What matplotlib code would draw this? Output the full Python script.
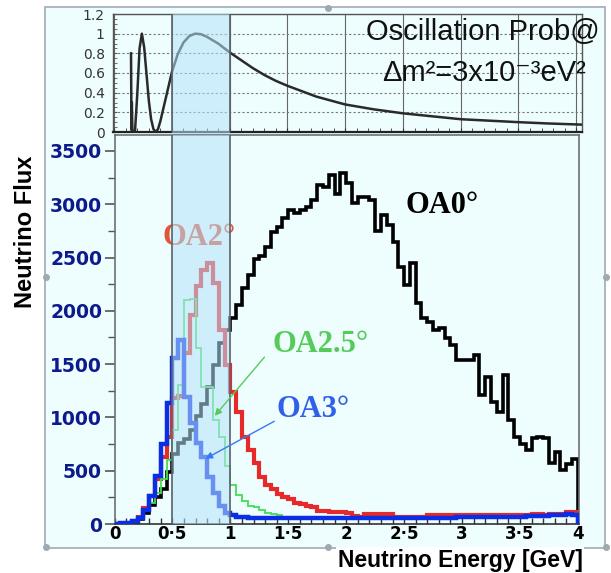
import matplotlib
matplotlib.use("Agg")
import matplotlib.pyplot as plt
from matplotlib.patches import Rectangle
from matplotlib.lines import Line2D
import numpy as np

# flux histograms, 0.05 GeV bins from 0 to 4 GeV
edges = np.linspace(0, 4, 81)

flux_oa0 = [0, 0, 5, 20, 50, 100, 180, 250, 330, 490,
            660, 760, 800, 880, 1010, 1130, 1290, 1490, 1700, 1820,
            1930, 2055, 2210, 2335, 2490, 2510, 2600, 2740, 2790, 2870,
            2945, 2915, 2945, 2975, 3040, 3180, 3165, 3275, 3100, 3290,
            3195, 3010, 3070, 3070, 3040, 2745, 2900, 2805, 2650, 2415,
            2240, 2450, 2070, 1930, 1900, 1820, 1835, 1745, 1680, 1540,
            1540, 1540, 1590, 1210, 1375, 1145, 1050, 1395, 975, 820,
            755, 695, 810, 820, 805, 575, 680, 505, 560, 610]

flux_oa2 = [0, 0, 10, 30, 70, 150, 260, 420, 630, 820,
            1180, 1200, 1600, 1960, 2230, 2380, 2450, 2260, 1820, 1490,
            1240, 1050, 820, 695, 570, 445, 370, 330, 280, 255,
            230, 200, 185, 165, 155, 125, 120, 115, 115, 110,
            105, 75, 70, 95, 95, 95, 90, 90, 70, 70,
            65, 65, 70, 70, 80, 80, 80, 80, 80, 80,
            85, 85, 85, 85, 80, 85, 85, 80, 85, 85,
            80, 85, 90, 90, 85, 90, 95, 95, 115, 110]

flux_oa25 = [0, 0, 10, 30, 60, 120, 200, 290, 420, 600,
             880, 1300, 2100, 2110, 1650, 1290, 1290, 980, 820, 540,
             370, 270, 220, 165, 160, 130, 100, 95, 80, 70,
             70, 65, 65, 65, 60, 60, 60, 60, 60, 60,
             60, 60, 60, 60, 60, 60, 60, 60, 60, 60,
             60, 60, 60, 60, 60, 60, 60, 65, 65, 65,
             65, 65, 65, 70, 70, 70, 70, 70, 70, 70,
             75, 75, 75, 75, 75, 80, 80, 80, 85, 85]

flux_oa3 = [0, 5, 8, 25, 60, 130, 260, 450, 750, 1135,
            1560, 1726, 1190, 950, 760, 630, 445, 290, 165, 105,
            80, 70, 65, 60, 60, 60, 55, 55, 55, 55,
            55, 55, 55, 55, 55, 55, 55, 55, 55, 55,
            55, 55, 55, 55, 60, 55, 55, 55, 60, 55,
            55, 55, 55, 55, 60, 60, 60, 60, 60, 65,
            65, 65, 65, 65, 65, 70, 70, 70, 65, 70,
            70, 75, 75, 75, 75, 80, 80, 85, 90, 85]

# oscillation probability curve
osc_e = [0.146, 0.150, 0.153, 0.158, 0.165, 0.180, 0.20, 0.22, 0.24, 0.26,
         0.28, 0.30, 0.32, 0.34, 0.36, 0.38, 0.40, 0.45, 0.50, 0.55,
         0.60, 0.65, 0.70, 0.75, 0.80, 0.90, 1.00, 1.10, 1.20, 1.30,
         1.40, 1.50, 1.75, 2.00, 2.25, 2.50, 2.75, 3.00, 3.25, 3.50,
         3.75, 4.00, 4.05]
osc_p = [0.80, 0.02, 0.30, 0.02, 0.0, 0.0, 0.38, 0.85, 1.00, 0.86,
         0.59, 0.32, 0.13, 0.03, 0.0, 0.03, 0.11, 0.36, 0.61, 0.79,
         0.91, 0.975, 1.0, 0.995, 0.97, 0.90, 0.81, 0.73, 0.65, 0.58,
         0.52, 0.47, 0.36, 0.28, 0.23, 0.19, 0.16, 0.13, 0.115, 0.10,
         0.087, 0.077, 0.075]

band = (0.5, 1.0)
xticks = [0, 0.5, 1, 1.5, 2, 2.5, 3, 3.5, 4]
xtick_labels = ["0", "0·5", "1", "1·5", "2", "2·5", "3", "3·5", "4"]
yticks = [0, 500, 1000, 1500, 2000, 2500, 3000, 3500]
ptop_ticks = [0, 0.2, 0.4, 0.6, 0.8, 1.0, 1.2]
ptop_labels = ["0", "0.2", "0.4", "0.6", "0.8", "1", "1.2"]

W, H = 611.0, 573.0
def fx(px):
    return px / W
def fy(py):
    return 1 - py / H

bg = "#eefdfd"
band_col = "#b5e2fa"
edge_col = "#5a6068"
spine_col = "#6a7078"

fig = plt.figure(figsize=(6.11, 5.73), dpi=100)
fig.patch.set_facecolor("white")

# light frame around the whole chart
frame = Rectangle((fx(45), fy(548)), fx(605) - fx(45), fy(7) - fy(548),
                  transform=fig.transFigure, facecolor=bg, edgecolor="#a9b1ba",
                  lw=1.3, zorder=0)
fig.add_artist(frame)
for hx, hy in [(46, 277), (606, 277), (328, 8), (46, 547), (328, 547), (606, 547)]:
    fig.add_artist(Line2D([fx(hx)], [fy(hy)], marker="o", ms=4, color="#a0a8b0",
                          transform=fig.transFigure))

# ---------------- upper panel: oscillation probability
ax_top = fig.add_axes([fx(113), fy(132), (582 - 113) / W, (132 - 14) / H])
ax_top.set_facecolor(bg)
ax_top.plot(osc_e, osc_p, color="#2a2a2a", lw=1.8, zorder=3)
ax_top.set_xlim(-0.01, 4.05)
ax_top.set_ylim(0, 1.2)
ax_top.set_xticks(xticks)
ax_top.set_xticks(np.arange(0, 4.01, 0.1), minor=True)
ax_top.set_yticks(ptop_ticks)
ax_top.set_yticklabels(ptop_labels)
ax_top.set_yticks(np.arange(0, 1.21, 0.05), minor=True)
ax_top.xaxis.grid(True, which="major", color="#666666", lw=0.8)
ax_top.yaxis.grid(True, which="major", color="#777777", lw=0.8, linestyle=(0, (2, 2)))
ax_top.set_axisbelow(True)
ax_top.tick_params(axis="x", which="both", direction="in", length=3, color="#333333",
                   labelbottom=False)
ax_top.tick_params(axis="y", which="both", direction="in", length=3, color="#555555",
                   labelsize=10, labelcolor="#333333", pad=6)
for s in ax_top.spines.values():
    s.set_color("#555555")
    s.set_linewidth(1.0)
ax_top.spines["bottom"].set_color("#222222")
ax_top.spines["bottom"].set_linewidth(1.6)
ax_top.axvspan(band[0], band[1], ymin=-0.03, ymax=1, facecolor=band_col, alpha=0.55,
               edgecolor="none", zorder=5, clip_on=False)
for b in band:
    ax_top.axvline(b, color=edge_col, lw=1.2, zorder=6)

ax_top.text(3.19, 1.02, "Oscillation Prob@", fontsize=21, ha="center", va="center",
            family=["Liberation Sans", "DejaVu Sans"], color="#111111", clip_on=False, zorder=7)
ax_top.text(3.2, 0.60, "Δm²=3x10⁻³eV²", fontsize=21, ha="center", va="center",
            family=["Liberation Sans", "DejaVu Sans"], color="#111111", clip_on=False, zorder=7)

# ---------------- lower panel: neutrino flux
ax = fig.add_axes([fx(114.5), fy(524), (579 - 114.5) / W, (524 - 135) / H])
ax.set_facecolor(bg)
ax.stairs(flux_oa0, edges, color="black", lw=2.6, baseline=0, zorder=2)
ax.stairs(flux_oa2, edges, color="#e62a2a", lw=3.0, zorder=2.2)
ax.stairs(flux_oa25, edges, color="#44dd55", lw=1.3, zorder=2.4)
ax.stairs(flux_oa3, edges, color="#0a2ee6", lw=3.2, zorder=2.6)

ax.axvspan(band[0], band[1], facecolor=band_col, alpha=0.55, edgecolor="none", zorder=5)
for b in band:
    ax.axvline(b, color=edge_col, lw=1.2, zorder=6)

ax.set_xlim(0, 4.01)
ax.set_ylim(0, 3650)

ser = ["Liberation Serif", "DejaVu Serif"]
ax.text(2.83, 2990, "OA0°", fontsize=22, fontweight="bold", family=ser,
        color="black", ha="center", va="center", zorder=7)
ax.text(0.73, 2690, "OA2°", fontsize=22, fontweight="bold", family=ser,
        color="#e0553a", ha="center", va="center", zorder=4)
ax.text(1.78, 1680, "OA2.5°", fontsize=22, fontweight="bold", family=ser,
        color="#55cc5a", ha="center", va="center", zorder=7)
ax.text(1.71, 1070, "OA3°", fontsize=22, fontweight="bold", family=ser,
        color="#3060ea", ha="center", va="center", zorder=7)
ax.annotate("", xy=(0.85, 995), xytext=(1.31, 1586), zorder=7,
            arrowprops=dict(arrowstyle="-|>", color="#55cc5a", lw=1.0, mutation_scale=10))
ax.annotate("", xy=(0.764, 600), xytext=(1.40, 976), zorder=7,
            arrowprops=dict(arrowstyle="-|>", color="#3a78ee", lw=1.0, mutation_scale=10))

ax.set_yticks(yticks)
ax.set_yticks(np.arange(0, 3651, 250), minor=True)
ax.set_xticks(xticks)
ax.set_xticklabels(xtick_labels)
ax.set_xticks(np.arange(0, 4.01, 0.1), minor=True)
ax.tick_params(axis="y", which="major", direction="out", length=7, width=1.2,
               color="#555555", labelsize=13.5, labelcolor="#0d1a8c", pad=2)
ax.tick_params(axis="y", which="minor", direction="out", length=5, width=1.0,
               color="#555555")
ax.tick_params(axis="x", which="both", direction="in", length=4, width=1.0,
               color="#333333", labelsize=12, labelcolor="black", pad=1, top=False)
for lab in ax.get_xticklabels() + ax.get_yticklabels():
    lab.set_fontweight("bold")
    lab.set_family("DejaVu Sans")
for s in ax.spines.values():
    s.set_color(spine_col)
    s.set_linewidth(1.2)
ax.spines["bottom"].set_color("#333333")

fig.text(fx(25), fy(232), "Neutrino Flux", rotation=90, fontsize=17, fontweight="bold",
         family=["Liberation Sans", "DejaVu Sans"], ha="center", va="center")
fig.text(fx(460), fy(560), "Neutrino Energy [GeV]", fontsize=16.5, fontweight="bold",
         family=["Liberation Sans", "DejaVu Sans"], ha="center", va="center",
         bbox=dict(facecolor="white", edgecolor="none", pad=1))

fig.savefig("out.png", dpi=100, facecolor=fig.get_facecolor())
